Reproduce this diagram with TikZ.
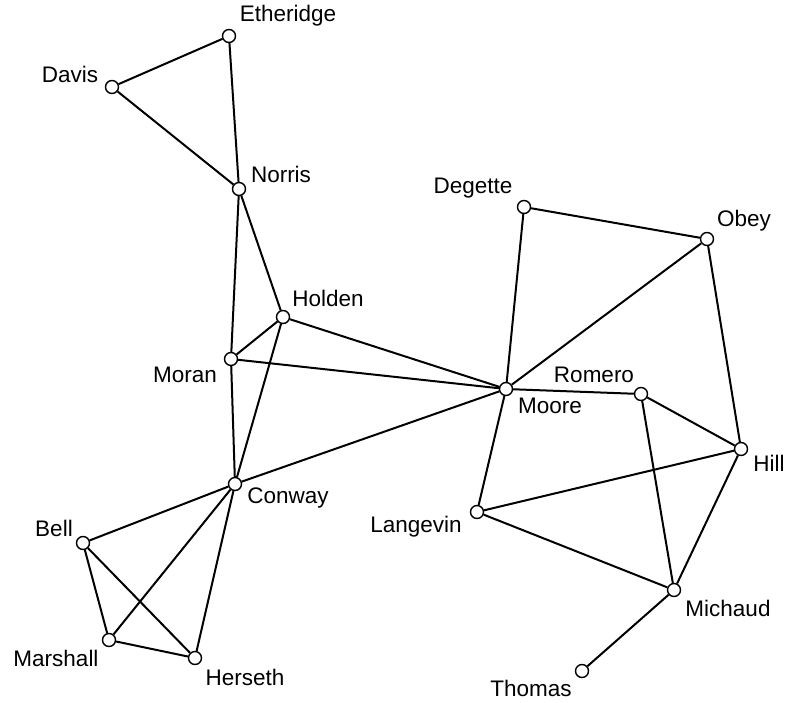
\documentclass[tikz,border=0pt]{standalone}
\usepackage{fontspec}
\setmainfont{Liberation Sans}
\begin{document}
\begin{tikzpicture}[x=1pt,y=-1pt,
  vert/.style={circle,draw=black,fill=white,line width=1.4pt,minimum size=13pt,inner sep=0pt},
  lbl/.style={font=\fontsize{22.5}{26}\selectfont,inner sep=0pt,anchor=center},
  edge/.style={line width=2pt,black}]
\useasboundingbox (0,0) rectangle (786,703);
% vertices
\node[vert] (Etheridge) at (229,36) {};
\node[vert] (Davis) at (112,87) {};
\node[vert] (Norris) at (239,189) {};
\node[vert] (Holden) at (283,317) {};
\node[vert] (Moran) at (231,359) {};
\node[vert] (Moore) at (506,389) {};
\node[vert] (Conway) at (235,484) {};
\node[vert] (Degette) at (524,207) {};
\node[vert] (Obey) at (707,239) {};
\node[vert] (Romero) at (641,394) {};
\node[vert] (Hill) at (741,449) {};
\node[vert] (Langevin) at (477,512) {};
\node[vert] (Michaud) at (674,590) {};
\node[vert] (Thomas) at (582,671) {};
\node[vert] (Bell) at (83,543) {};
\node[vert] (Marshall) at (109,640) {};
\node[vert] (Herseth) at (195,658) {};
% edges
\draw[edge] (Etheridge) -- (Davis);
\draw[edge] (Etheridge) -- (Norris);
\draw[edge] (Davis) -- (Norris);
\draw[edge] (Norris) -- (Moran);
\draw[edge] (Norris) -- (Holden);
\draw[edge] (Holden) -- (Moran);
\draw[edge] (Holden) -- (Moore);
\draw[edge] (Holden) -- (Conway);
\draw[edge] (Moran) -- (Moore);
\draw[edge] (Moran) -- (Conway);
\draw[edge] (Conway) -- (Moore);
\draw[edge] (Conway) -- (Bell);
\draw[edge] (Conway) -- (Marshall);
\draw[edge] (Conway) -- (Herseth);
\draw[edge] (Bell) -- (Marshall);
\draw[edge] (Bell) -- (Herseth);
\draw[edge] (Marshall) -- (Herseth);
\draw[edge] (Degette) -- (Obey);
\draw[edge] (Degette) -- (Moore);
\draw[edge] (Obey) -- (Moore);
\draw[edge] (Obey) -- (Hill);
\draw[edge] (Moore) -- (Romero);
\draw[edge] (Moore) -- (Langevin);
\draw[edge] (Romero) -- (Hill);
\draw[edge] (Romero) -- (Michaud);
\draw[edge] (Langevin) -- (Hill);
\draw[edge] (Langevin) -- (Michaud);
\draw[edge] (Hill) -- (Michaud);
\draw[edge] (Michaud) -- (Thomas);
% labels
\node[lbl] (lEtheridge) at (288,16) {Etheridge};
\node[lbl] (lDavis) at (70,74) {Davis};
\node[lbl] (lNorris) at (281,174) {Norris};
\node[lbl] (lHolden) at (328,298) {Holden};
\node[lbl] (lMoran) at (185,375) {Moran};
\node[lbl] (lMoore) at (550,406) {Moore};
\node[lbl] (lConway) at (288,498) {Conway};
\node[lbl] (lDegette) at (473,188) {Degette};
\node[lbl] (lObey) at (744,221) {Obey};
\node[lbl] (lRomero) at (594,375) {Romero};
\node[lbl] (lHill) at (769,463) {Hill};
\node[lbl] (lLangevin) at (416,527) {Langevin};
\node[lbl] (lMichaud) at (728,608) {Michaud};
\node[lbl] (lThomas) at (531,688) {Thomas};
\node[lbl] (lBell) at (54,528) {Bell};
\node[lbl] (lMarshall) at (56,658) {Marshall};
\node[lbl] (lHerseth) at (245,677) {Herseth};
\end{tikzpicture}
\end{document}
